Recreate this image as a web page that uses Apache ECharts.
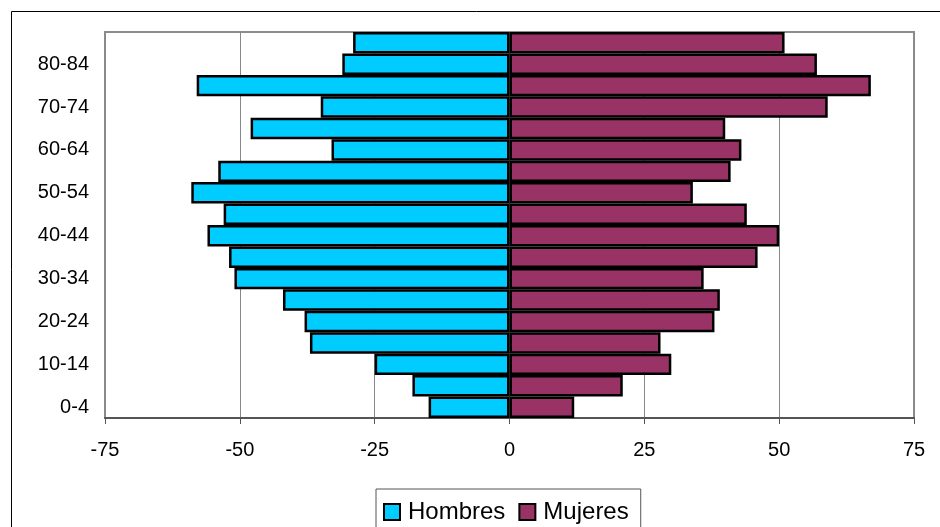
<!DOCTYPE html>
<html>
<head>
<meta charset="utf-8">
<script src="https://cdn.jsdelivr.net/npm/echarts@6/dist/echarts.min.js"></script>
<style>
  html, body { margin: 0; padding: 0; background: #fff; }
  #chart { width: 940px; height: 527px; }
</style>
</head>
<body>
<div id="chart"></div>
<script>
// Age groups, youngest at the bottom
const ageGroups = ['0-4','5-9','10-14','15-19','20-24','25-29','30-34','35-39','40-44',
                   '45-49','50-54','55-59','60-64','65-69','70-74','75-79','80-84','85+'];
// Men drawn to the left (negative), women to the right
const hombres = [-15, -18, -25, -37, -38, -42, -51, -52, -56, -53, -59, -54, -33, -48, -35, -58, -31, -29];
const mujeres = [12, 21, 30, 28, 38, 39, 36, 46, 50, 44, 34, 41, 43, 40, 59, 67, 57, 51];
const xTicks = { min: -75, max: 75, interval: 25 };

const chart = echarts.init(document.getElementById('chart'), null, { renderer: 'canvas' });
const font = 'Liberation Sans, Arial, sans-serif';

chart.setOption({
  animation: false,
  backgroundColor: '#fff',
  graphic: [{
    type: 'rect',
    shape: { x: 11.5, y: 11.5, width: 1000, height: 600 },
    style: { fill: 'none', stroke: '#000', lineWidth: 1 },
    silent: true,
    z: 0
  }],
  grid: { left: 105, right: 26, top: 32, bottom: 109, show: true,
          borderColor: '#8c8c8c', borderWidth: 2, backgroundColor: 'transparent' },
  legend: {
    data: ['Hombres', 'Mujeres'],
    left: 376, top: 489,
    padding: [11, 12, 14, 7],
    itemGap: 13, itemWidth: 16, itemHeight: 16,
    borderColor: '#555', borderWidth: 1,
    textStyle: { fontFamily: font, fontSize: 24, color: '#000', padding: [0, 0, 0, 3] },
    icon: 'rect'
  },
  xAxis: {
    type: 'value',
    min: xTicks.min, max: xTicks.max, interval: xTicks.interval,
    axisLine: { show: true, onZero: false, lineStyle: { color: '#555', width: 2 } },
    axisTick: { show: true, length: 6, lineStyle: { color: '#555', width: 1 } },
    axisLabel: { fontFamily: font, fontSize: 20, color: '#000', margin: 22 },
    splitLine: { show: true, lineStyle: { color: '#888', width: 1 } }
  },
  yAxis: {
    type: 'category',
    data: ageGroups,
    axisLine: { show: false },
    axisTick: { show: false },
    axisLabel: { interval: 1, fontFamily: font, fontSize: 20, color: '#000', margin: 16 },
    splitLine: { show: false }
  },
  series: [
    {
      name: 'Hombres', type: 'bar', data: hombres,
      barCategoryGap: '0%', barGap: '-100%',
      itemStyle: { color: '#00ccff', borderColor: '#000', borderWidth: 2.5 }
    },
    {
      name: 'Mujeres', type: 'bar', data: mujeres,
      barCategoryGap: '0%', barGap: '-100%',
      itemStyle: { color: '#993366', borderColor: '#000', borderWidth: 2.5 }
    }
  ]
});
</script>
</body>
</html>
